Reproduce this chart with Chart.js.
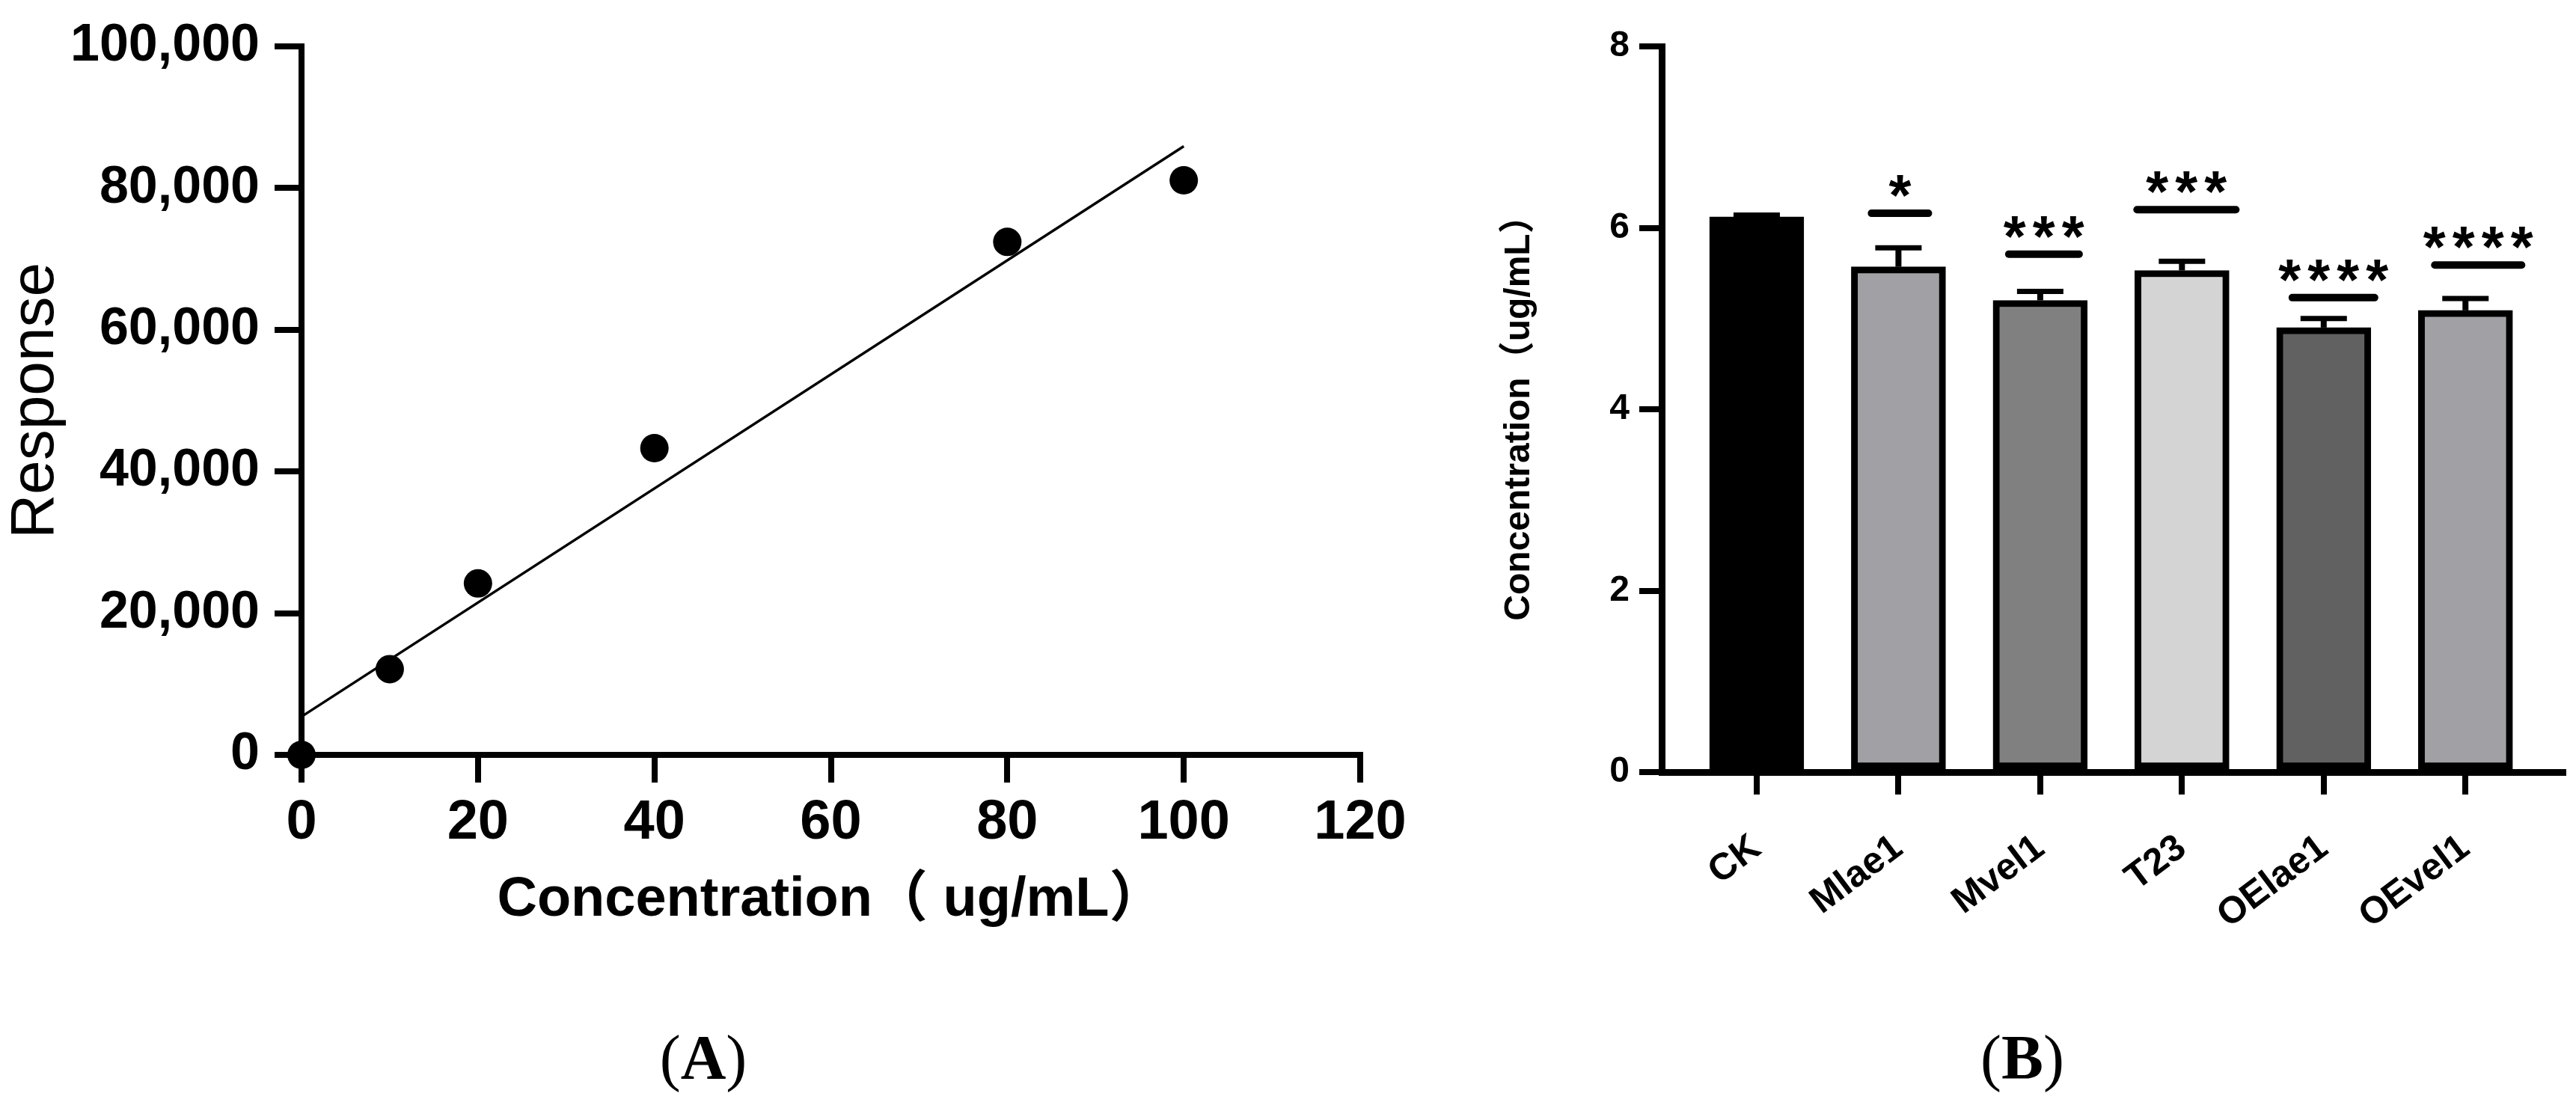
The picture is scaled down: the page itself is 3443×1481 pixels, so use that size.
<!DOCTYPE html>
<html><head><meta charset="utf-8">
<script src="https://cdn.jsdelivr.net/npm/chart.js@4.4.1/dist/chart.umd.min.js"></script>
<style>
html,body{margin:0;padding:0;background:#fff;width:3443px;height:1481px;overflow:hidden;}
#wa{position:absolute;left:0;top:0;width:1900px;height:1300px;}
#wb{position:absolute;left:1940px;top:0;width:1503px;height:1300px;}
.pl{position:absolute;top:1372px;font-family:'Liberation Serif','Times New Roman',serif;font-size:84px;line-height:84px;color:#000;transform:translateX(-50%);white-space:nowrap;}
</style></head><body>
<div id="wa"><canvas id="ca" width="1900" height="1300"></canvas></div>
<div id="wb"><canvas id="cb" width="1503" height="1300"></canvas></div>
<div class="pl" style="left:940px">(<b>A</b>)</div>
<div class="pl" style="left:2703px">(<b>B</b>)</div>
<script>
// ---------- Panel A data ----------
const concX = [0, 10, 20, 40, 80, 100];
const respY = [0, 12100, 24200, 43300, 72400, 81100];
const fitX = [0, 100];
const fitY = [5400, 85900];
const aXTicks = [0, 20, 40, 60, 80, 100, 120];
const aXTickLabels = ['0', '20', '40', '60', '80', '100', '120'];
const aYTicks = [0, 20000, 40000, 60000, 80000, 100000];
const aYTickLabels = ['0', '20,000', '40,000', '60,000', '80,000', '100,000'];

// ---------- Panel B data ----------
const strains = ['CK', 'Mlae1', 'Mvel1', 'T23', 'OElae1', 'OEvel1'];
const meanConc = [6.12, 5.57, 5.20, 5.53, 4.90, 5.09];
const errTop = [6.14, 5.78, 5.30, 5.63, 5.00, 5.22];
const sigLevel = [null, 6.16, 5.71, 6.20, 5.23, 5.59];
const sigStars = ['', '*', '***', '***', '****', '****'];
const bYTicks = [0, 2, 4, 6, 8];
const bYTickLabels = ['0', '2', '4', '6', '8'];

// ---------- styles ----------
const blk = '#000';
const barFill = ['#000000', '#a1a0a5', '#808080', '#d4d4d4', '#616161', '#a1a0a5'];
const sigHalfW = [0, 38, 47, 66, 55, 58];
const sigShift = [0, 2, 5, 6, 13, 17];
const capHalf = 31;
const starGlyphW = 30, starPitch = 39, starRise = 36;

function hasFont(name) {
  const c = document.createElement('canvas').getContext('2d');
  const s = 'Concentration mmmwwwiii';
  c.font = 'bold 40px monospace';
  const w0 = c.measureText(s).width;
  c.font = 'bold 40px "' + name + '", monospace';
  return Math.abs(c.measureText(s).width - w0) > 0.5;
}
const NARROW = hasFont('Liberation Sans Narrow');
const baseFam = "'Liberation Sans', Arial, 'Noto Sans CJK SC', sans-serif";
const titleFam = NARROW ? "'Liberation Sans Narrow', 'Noto Sans CJK SC', sans-serif" : baseFam;
const aTitleSize = NARROW ? 88 : 74;
const bTitleSize = NARROW ? 58 : 48;

Chart.defaults.font.family = baseFam;
Chart.defaults.color = blk;

// ---------- Panel A ----------
new Chart(document.getElementById('ca'), {
  type: 'scatter',
  data: {
    datasets: [
      { label: 'Response', data: concX.map((x, i) => ({ x: x, y: respY[i] })),
        pointRadius: 19, pointHoverRadius: 19, backgroundColor: blk, borderWidth: 0, clip: false, showLine: false },
      { label: 'Fit', data: fitX.map((x, i) => ({ x: x, y: fitY[i] })),
        showLine: true, borderColor: blk, borderWidth: 3.5, pointRadius: 0, fill: false, clip: false }
    ]
  },
  options: {
    responsive: false, animation: false,
    layout: { padding: { left: 0, top: 62, right: 82, bottom: 0 } },
    plugins: { legend: { display: false }, tooltip: { enabled: false } },
    scales: {
      x: {
        type: 'linear', min: 0, max: 120,
        afterBuildTicks: s => { s.ticks = aXTicks.map(v => ({ value: v })); },
        afterFit: s => { s.height = 291; },
        ticks: { callback: (v, i) => aXTickLabels[i], font: { size: 74, weight: 'bold' }, color: blk, padding: 10, maxRotation: 0, autoSkip: false },
        grid: { display: true, drawOnChartArea: false, drawTicks: true, tickLength: 37, tickWidth: 8, tickColor: blk, lineWidth: 8, color: blk },
        border: { display: true, width: 8, color: blk },
        title: { display: true, text: 'Concentration（ ug/mL）', color: blk,
          font: { size: aTitleSize, weight: 'bold', family: titleFam, lineHeight: 1 },
          padding: { top: 0, bottom: 96 - aTitleSize / 2 } }
      },
      y: {
        type: 'linear', min: 0, max: 100000,
        afterBuildTicks: s => { s.ticks = aYTicks.map(v => ({ value: v })); },
        afterFit: s => { s.width = 403; },
        ticks: { callback: (v, i) => aYTickLabels[i], font: { size: 70, weight: 'bold' }, color: blk, padding: 20, autoSkip: false },
        grid: { display: true, drawOnChartArea: false, drawTicks: true, tickLength: 36, tickWidth: 8, tickColor: blk, lineWidth: 8, color: blk },
        border: { display: true, width: 8, color: blk },
        title: { display: true, text: 'Response', color: blk,
          font: { size: 82, weight: 'normal', lineHeight: 1 }, padding: { top: 7, bottom: 0 } }
      }
    }
  }
});

// ---------- Panel B ----------
const errSig = {
  id: 'errSig',
  afterDatasetsDraw(chart) {
    const ctx = chart.ctx, x = chart.scales.x, y = chart.scales.y;
    ctx.save();
    ctx.fillStyle = blk; ctx.strokeStyle = blk;
    ctx.font = "bold 100px 'Liberation Sans', Arial, sans-serif";
    const m0 = ctx.measureText('*');
    const gw = (m0.actualBoundingBoxLeft + m0.actualBoundingBoxRight) || 30;
    const fs = 100 * starGlyphW / gw;
    const starFont = 'bold ' + fs.toFixed(1) + "px 'Liberation Sans', Arial, sans-serif";
    ctx.font = starFont;
    const m1 = ctx.measureText('*');
    const midOff = (m1.actualBoundingBoxAscent - m1.actualBoundingBoxDescent) / 2;
    const glyphCx = (m1.actualBoundingBoxRight - m1.actualBoundingBoxLeft) / 2;

    strains.forEach((s, i) => {
      const cx = x.getPixelForValue(i);
      const yTop = y.getPixelForValue(meanConc[i]);
      const yErr = y.getPixelForValue(errTop[i]);
      ctx.lineCap = 'butt';
      ctx.lineWidth = 8;
      ctx.beginPath(); ctx.moveTo(cx, yTop); ctx.lineTo(cx, yErr); ctx.stroke();
      ctx.lineWidth = 7;
      ctx.beginPath(); ctx.moveTo(cx - capHalf, yErr); ctx.lineTo(cx + capHalf, yErr); ctx.stroke();
      if (sigLevel[i] !== null) {
        const ly = y.getPixelForValue(sigLevel[i]);
        const lc = cx + sigShift[i];
        ctx.lineWidth = 10; ctx.lineCap = 'round';
        ctx.beginPath(); ctx.moveTo(lc - sigHalfW[i], ly); ctx.lineTo(lc + sigHalfW[i], ly); ctx.stroke();
        ctx.font = starFont;
        ctx.textAlign = 'left'; ctx.textBaseline = 'alphabetic';
        const stars = sigStars[i];
        const n = stars.length;
        for (let k = 0; k < n; k++) {
          const sx = lc + (k - (n - 1) / 2) * starPitch;
          ctx.fillText(stars[k], sx - glyphCx, ly - starRise + midOff);
        }
      }
    });
    ctx.restore();
  }
};

new Chart(document.getElementById('cb'), {
  type: 'bar',
  data: {
    datasets: [{
      label: 'Concentration',
      data: meanConc.map((v, i) => ({ x: i, y: v })),
      backgroundColor: barFill, borderColor: blk, borderWidth: 9, borderSkipped: false,
      barThickness: 126, clip: false
    }]
  },
  options: {
    responsive: false, animation: false,
    layout: { padding: { left: 0, top: 62, right: 17, bottom: 0 } },
    plugins: { legend: { display: false }, tooltip: { enabled: false } },
    scales: {
      x: {
        type: 'linear', min: -0.67, max: 5.69, offset: false,
        afterBuildTicks: s => { s.ticks = strains.map((c, i) => ({ value: i })); },
        afterFit: s => { s.height = 268; },
        ticks: { callback: (v, i) => strains[i], autoSkip: false, minRotation: 37, maxRotation: 37,
          font: { size: 50, weight: 'bold' }, color: blk, padding: 42 },
        grid: { display: true, offset: false, drawOnChartArea: false, drawTicks: true, tickLength: 30, tickWidth: 8, tickColor: blk, lineWidth: 8, color: blk },
        border: { display: true, width: 9, color: blk }
      },
      y: {
        type: 'linear', min: 0, max: 8,
        afterBuildTicks: s => { s.ticks = bYTicks.map(v => ({ value: v })); },
        afterFit: s => { s.width = 281; },
        ticks: { callback: (v, i) => bYTickLabels[i], font: { size: 48, weight: 'bold' }, color: blk, padding: 13, autoSkip: false },
        grid: { display: true, drawOnChartArea: false, drawTicks: true, tickLength: 30, tickWidth: 8, tickColor: blk, lineWidth: 8, color: blk },
        border: { display: true, width: 9, color: blk },
        title: { display: true, text: 'Concentration（ug/mL）', color: blk,
          font: { size: bTitleSize, weight: 'bold', family: titleFam, lineHeight: 1 },
          padding: { top: 91 - bTitleSize / 2, bottom: 0 } }
      }
    }
  },
  plugins: [errSig]
});
</script>
</body></html>
